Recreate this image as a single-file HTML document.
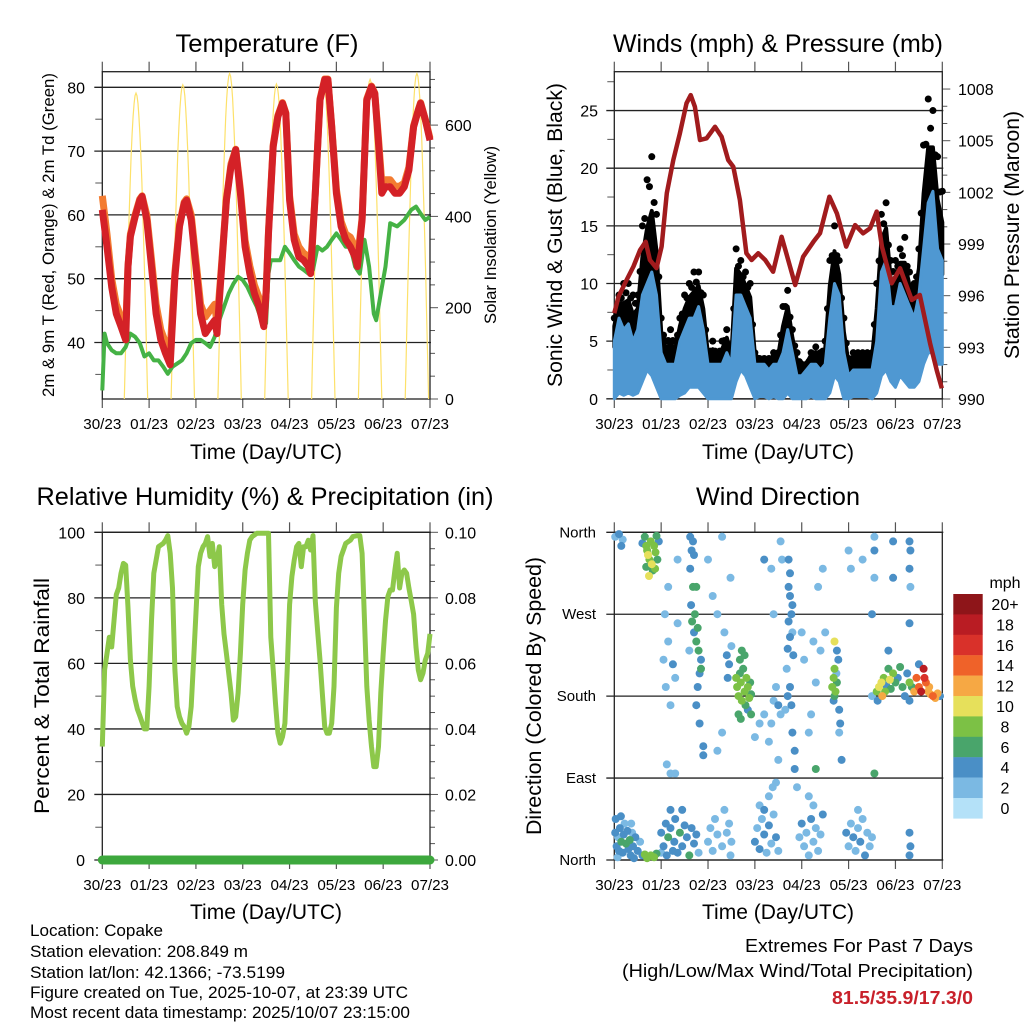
<!DOCTYPE html>
<html><head><meta charset="utf-8"><style>
html,body{margin:0;padding:0;background:#fff}
svg{display:block}
text{font-family:"Liberation Sans Narrow","Liberation Sans",sans-serif;fill:#000}
</style></head><body>
<svg id="c" width="1024" height="1024" viewBox="0 0 1024 1024" xmlns="http://www.w3.org/2000/svg">
<rect width="1024" height="1024" fill="#fff"/>
<text x="267" y="52" font-size="25" text-anchor="middle" textLength="183" lengthAdjust="spacingAndGlyphs">Temperature (F)</text>
<text x="778" y="52" font-size="25" text-anchor="middle" textLength="330" lengthAdjust="spacingAndGlyphs">Winds (mph) &amp; Pressure (mb)</text>
<text x="265" y="505" font-size="25" text-anchor="middle" textLength="457" lengthAdjust="spacingAndGlyphs">Relative Humidity (%) &amp; Precipitation (in)</text>
<text x="778" y="505" font-size="25" text-anchor="middle" textLength="164" lengthAdjust="spacingAndGlyphs">Wind Direction</text>
<text x="266" y="459" font-size="21" text-anchor="middle" textLength="152" lengthAdjust="spacingAndGlyphs">Time (Day/UTC)</text>
<text x="778" y="459" font-size="21" text-anchor="middle" textLength="152" lengthAdjust="spacingAndGlyphs">Time (Day/UTC)</text>
<text x="266" y="919" font-size="21" text-anchor="middle" textLength="152" lengthAdjust="spacingAndGlyphs">Time (Day/UTC)</text>
<text x="778" y="919" font-size="21" text-anchor="middle" textLength="152" lengthAdjust="spacingAndGlyphs">Time (Day/UTC)</text>
<text transform="translate(54,235) rotate(-90)" font-size="17" text-anchor="middle" textLength="324" lengthAdjust="spacingAndGlyphs">2m &amp; 9m T (Red, Orange) &amp; 2m Td (Green)</text>
<text transform="translate(496,235) rotate(-90)" font-size="17" text-anchor="middle" textLength="178" lengthAdjust="spacingAndGlyphs">Solar Insolation (Yellow)</text>
<text transform="translate(562,235) rotate(-90)" font-size="21" text-anchor="middle" textLength="304" lengthAdjust="spacingAndGlyphs">Sonic Wind &amp; Gust (Blue, Black)</text>
<text transform="translate(1019,235) rotate(-90)" font-size="21" text-anchor="middle" textLength="248" lengthAdjust="spacingAndGlyphs">Station Pressure (Maroon)</text>
<text transform="translate(49,696) rotate(-90)" font-size="21" text-anchor="middle" textLength="236" lengthAdjust="spacingAndGlyphs">Percent &amp; Total Rainfall</text>
<text transform="translate(541,696) rotate(-90)" font-size="21" text-anchor="middle" textLength="278" lengthAdjust="spacingAndGlyphs">Direction (Colored By Speed)</text>
<g font-size="17">
<text x="30" y="936" textLength="133" lengthAdjust="spacingAndGlyphs">Location: Copake</text>
<text x="30" y="957" textLength="218" lengthAdjust="spacingAndGlyphs">Station elevation: 208.849 m</text>
<text x="30" y="978" textLength="255" lengthAdjust="spacingAndGlyphs">Station lat/lon: 42.1366; -73.5199</text>
<text x="30" y="998" textLength="378" lengthAdjust="spacingAndGlyphs">Figure created on Tue, 2025-10-07, at 23:39 UTC</text>
<text x="30" y="1018" textLength="380" lengthAdjust="spacingAndGlyphs">Most recent data timestamp: 2025/10/07 23:15:00</text>
</g>
<text x="973" y="952" font-size="18" text-anchor="end" textLength="228" lengthAdjust="spacingAndGlyphs">Extremes For Past 7 Days</text>
<text x="973" y="977" font-size="18" text-anchor="end" textLength="351" lengthAdjust="spacingAndGlyphs">(High/Low/Max Wind/Total Precipitation)</text>
<text x="973" y="1004" font-size="18" font-weight="bold" text-anchor="end" textLength="141" lengthAdjust="spacingAndGlyphs" style="fill:#c8202a">81.5/35.9/17.3/0</text>
</svg>
<script>
// ---------- DATA ----------
const dayLabels=["30/23","01/23","02/23","03/23","04/23","05/23","06/23","07/23"];
const tDays=[0,0.1,0.2,0.3,0.4,0.5,0.55,0.6,0.7,0.8,0.85,0.95,1.05,1.15,1.25,1.35,1.45,1.55,1.65,1.75,1.8,1.9,2.0,2.1,2.2,2.3,2.4,2.45,2.55,2.65,2.75,2.85,2.95,3.05,3.15,3.25,3.35,3.45,3.5,3.55,3.65,3.75,3.85,3.92,4.0,4.1,4.2,4.3,4.4,4.45,4.55,4.65,4.75,4.82,4.9,5.0,5.1,5.2,5.3,5.4,5.45,5.55,5.65,5.75,5.82,5.9,5.97,6.05,6.15,6.25,6.35,6.45,6.55,6.65,6.75,6.8,6.9,7.0];
const tempRed=[60.8,55,48.7,44.5,42.5,40.4,51.9,56.6,59.7,62.3,62.9,59.2,51.9,44.5,40.4,38.3,36.5,50.3,58.2,61.8,62.3,59.2,51.9,44.5,41.4,42.5,43.5,41.4,51.9,62.3,67.6,70.2,63.4,55,50.8,47.7,45.6,42.5,47.7,57.1,70.7,75.4,77.5,75.9,62.3,56.1,53.4,52.9,51.9,50.8,63.4,78,81.2,81.2,73.8,63.4,58.2,56.1,55,53.4,51.9,59.2,78,80.1,79,71.2,63.4,64.4,64.4,63.4,63.4,64.4,67,73.8,76.4,77.5,74.9,71.7];
const tempOrange=[63,57,50,46,44,42,52,57,60,62.5,63,60,53,46,42,40,39,51,58.5,62,62.5,60,53,46,44,45,46,43,52.5,62.5,68,70.3,64,56,52,49,47,44,48,57.5,71,75.6,77.6,76,63,57,55,54,53.5,52,63.5,78.2,81.3,81.3,74,64,59,57,56.5,55,53,59.5,78.2,80.2,79.1,72,65,65.5,65.5,64.5,64.5,65,67.5,74,76.5,77.6,75,72];
const tdDays=[0,0.05,0.1,0.2,0.3,0.4,0.5,0.6,0.7,0.8,0.9,1.0,1.1,1.2,1.3,1.4,1.5,1.6,1.7,1.8,1.9,2.0,2.1,2.2,2.3,2.4,2.5,2.6,2.7,2.8,2.9,3.0,3.1,3.2,3.3,3.4,3.5,3.55,3.6,3.7,3.8,3.9,4.0,4.1,4.2,4.3,4.4,4.5,4.6,4.7,4.8,4.9,5.0,5.1,5.2,5.3,5.4,5.5,5.6,5.7,5.8,5.85,5.95,6.05,6.15,6.3,6.45,6.6,6.7,6.8,6.9,7.0];
const dewpoint=[32.5,41.4,39.9,38.8,38.3,38.3,39.3,41.4,40.9,39.9,37.8,38.3,37.2,37.2,36.2,35.1,36.2,36.7,37.2,38.3,39.9,40.4,40.4,39.9,39.3,40.9,43.5,45.6,47.7,49.2,50.3,49.8,48.7,47.1,45.6,43.5,43.0,50.8,52.9,52.9,52.9,55,54,52.9,51.9,51.4,50.8,51.4,55,54.4,55,56.1,57.1,56.1,55,55,51.9,50.8,56.1,51.9,44.5,43.5,47.7,51.9,58.7,58.2,59.2,60.8,61.3,60.2,59.2,59.7];
const solarPeaks=[670,688,713,690,700,700,713];
const presDays=[0,0.09,0.26,0.41,0.55,0.67,0.76,0.9,1.01,1.12,1.26,1.4,1.54,1.63,1.72,1.83,1.97,2.15,2.29,2.43,2.54,2.68,2.82,2.93,3.07,3.22,3.39,3.57,3.67,3.86,4.03,4.25,4.39,4.59,4.75,4.95,5.14,5.31,5.46,5.6,5.71,5.92,6.1,6.35,6.52,6.74,6.88,6.99];
const pressure=[994.98,995.94,996.9,997.7,998.65,999.13,998.07,997.6,998.85,1001.95,1003.88,1005.43,1007.17,1007.65,1006.97,1005.04,1005.14,1005.81,1005.23,1003.88,1003.49,1001.55,998.46,998.07,998.46,998.07,997.39,999.42,998.46,996.62,998.26,999.13,999.62,1001.75,1000.78,998.85,1000.1,999.62,999.91,1000.88,998.85,996.72,997.59,995.75,996.04,993.23,991.68,990.62];
const windDays=[0,0.1,0.2,0.3,0.4,0.5,0.6,0.7,0.8,0.9,1.0,1.1,1.2,1.3,1.4,1.5,1.6,1.7,1.8,1.9,2.0,2.1,2.2,2.3,2.4,2.5,2.6,2.7,2.8,2.9,3.0,3.1,3.2,3.3,3.4,3.5,3.6,3.7,3.8,3.9,4.0,4.1,4.2,4.3,4.4,4.5,4.6,4.7,4.8,4.9,5.0,5.1,5.2,5.3,5.4,5.5,5.6,5.7,5.8,5.9,6.0,6.1,6.2,6.3,6.4,6.5,6.6,6.7,6.8,6.9,7.0];
const windHi=[5,7,6,6.5,5,6,9,10,11,9,4,3,3,3,5,6,7,7,8,6,3,3,3,3,4,3,9,9,8,7,3,3,3,2.5,3,3,4,6,4,2,2,2.5,3,3,2.5,3,7,10,9,4,2,2.5,2.5,2.5,2.5,2.5,5,11,12,8,8,10,9,8,7,9,13,17,18,13,12];
const windLo=[0,0.5,0.3,0.5,0.3,0.5,1.5,2.5,2,1,0,0,0,0,0.3,0.5,1,1,1,0.5,0,0,0,0,0,0,1.5,2.5,2,1,0,0.2,0.2,0,0.2,0,0,0.5,0,0,0,0,0.2,0,0,0,0.5,2,1.5,0,0,0.2,0.2,0.2,0.2,0,0.5,2,2.5,1.5,1,2,1.5,1,1,1.5,3,4,4,3,3];
const gust=[7,9,10,10,9,9,15,19,21,16,7,5,6,5,7,9,10,11,11,9,4,5,4,5,6,4,13,12,11,10,4,3.5,3.5,3.5,4,4,8,9.4,6,4,3,3,4,4.5,4,5,12,15,12,7,3.5,4,4,4,4,4,10,16,17,12,12,13,14,11,10,13,22,26,25,21,18];
const rhDays=[0,0.05,0.1,0.15,0.2,0.25,0.3,0.35,0.4,0.45,0.5,0.55,0.6,0.65,0.7,0.75,0.8,0.85,0.9,0.95,1.0,1.05,1.1,1.15,1.2,1.3,1.35,1.4,1.45,1.5,1.55,1.6,1.65,1.7,1.75,1.8,1.85,1.9,1.95,2.0,2.05,2.1,2.15,2.2,2.25,2.3,2.35,2.4,2.45,2.5,2.55,2.6,2.65,2.7,2.75,2.8,2.85,2.9,2.95,3.0,3.05,3.1,3.15,3.2,3.3,3.4,3.45,3.5,3.55,3.6,3.65,3.7,3.75,3.8,3.85,3.9,3.95,4.0,4.05,4.1,4.15,4.2,4.25,4.3,4.35,4.4,4.45,4.5,4.55,4.6,4.65,4.7,4.75,4.8,4.85,4.9,4.95,5.0,5.05,5.1,5.15,5.2,5.3,5.35,5.45,5.5,5.55,5.6,5.65,5.7,5.75,5.8,5.85,5.9,5.95,6.0,6.05,6.1,6.15,6.2,6.25,6.3,6.35,6.4,6.45,6.5,6.55,6.6,6.65,6.7,6.75,6.8,6.85,6.9,6.95,7.0];
const humidity=[34.6,58,63,68,65,73,81,83,87.5,90.5,90,77,61,53,49,46,44,42,40,40,53,73,87.5,91.5,95.6,96.6,97.6,99,93.6,83,58,46.8,43.7,41.7,40.7,38.7,40.7,46.8,61,75,89.5,93.6,95.6,96.6,98.7,92.6,96.6,89.5,91.5,95.6,78,69,63,57,51,42.7,43.7,51,63,78,88.5,93.6,97.6,98.7,99.7,99.7,99.7,99.7,99.7,68,58,47.8,38.7,35.6,37.6,41.7,58,78,86.5,91.5,95.6,96.6,89.5,95.6,95.6,97.6,94.6,99,79,70,61,51,40.7,38.7,38.7,41.7,53,77,87.5,92.6,94.6,96.6,97.6,98.7,99,99,93.6,73,53,42.7,34.6,28.5,28.5,34.6,51,63,73,80.4,82.4,82.4,88.5,93.6,83,87.5,88.5,87.5,83,79,75,65,58,55,57,61,63,69];
const precipDays=[0,7];
const precip=[0,0];
const dirDay=[0.02,0.05,0.08,0.1,0.12,0.15,0.18,0.2,0.22,0.25,0.28,0.3,0.33,0.35,0.38,0.4,0.45,0.5,0.55,0.6,0.03,0.07,0.14,0.36,0.42,0.65,0.7,0.78,0.85,0.9,0.65,0.68,0.7,0.72,0.75,0.78,0.8,0.82,0.85,0.88,0.9,0.92,0.74,0.68,0.95,0.6,0.87,0.02,0.1,0.15,0.18,1.0,1.05,1.1,1.12,1.15,1.2,1.25,1.28,1.3,1.35,1.4,1.45,1.5,1.55,1.6,1.65,1.7,1.75,1.8,1.2,1.45,1.0,1.62,1.65,1.62,1.68,1.64,1.66,1.7,1.75,1.8,1.85,1.82,1.78,1.75,1.82,1.9,1.9,1.75,1.72,1.78,1.85,1.68,1.7,1.6,1.05,1.1,1.15,1.2,1.25,1.3,1.12,1.2,1.35,1.15,1.08,1.35,1.3,2.0,2.05,2.1,2.15,2.2,2.3,2.35,2.4,2.45,2.5,2.48,2.0,2.1,2.2,2.3,2.35,2.4,2.45,2.42,2.5,2.48,2.3,2.2,2.6,2.62,2.65,2.68,2.7,2.72,2.75,2.78,2.8,2.82,2.85,2.88,2.9,2.92,2.68,2.72,2.65,2.7,2.85,2.92,2.78,3.0,3.05,3.1,3.15,3.2,3.25,3.3,3.35,3.4,3.45,3.5,3.1,3.3,3.2,3.38,3.0,3.1,3.2,3.3,3.35,3.4,3.45,3.5,3.55,3.5,3.45,3.35,3.4,3.55,3.58,3.2,3.72,3.75,3.72,3.75,3.8,3.78,3.72,3.8,3.75,3.7,3.82,3.75,3.7,3.78,3.8,3.85,3.85,3.9,3.68,3.65,3.95,4.0,4.05,4.1,4.15,4.2,4.25,4.3,4.35,4.4,4.45,4.25,4.15,4.0,4.05,4.15,4.2,4.25,4.3,4.35,4.4,4.45,4.5,4.3,4.65,4.68,4.7,4.72,4.75,4.78,4.7,4.75,4.68,4.8,4.82,4.8,4.85,4.7,4.74,4.95,5.0,5.05,5.1,5.15,5.2,5.25,5.3,5.35,5.4,5.45,5.5,5.2,5.0,5.05,5.3,5.55,5.5,5.55,5.55,5.5,5.55,5.6,5.65,5.7,5.72,5.75,5.78,5.8,5.85,5.88,5.9,5.95,6.0,6.05,6.1,6.15,6.2,6.25,6.3,6.35,6.4,6.45,6.5,6.55,6.6,6.62,6.65,6.7,6.72,6.75,6.8,6.85,6.9,6.95,5.62,5.85,6.3,6.5,6.3,6.32,6.3,6.32,6.3,6.3,6.32,6.3,5.95,5.95,5.95];
const dirDeg=[30,15,25,10,35,20,8,28,40,18,32,12,22,5,30,15,25,10,20,5,45,3,48,40,2,6,2,5,3,7,355,345,340,335,330,350,325,318,345,338,356,330,312,322,350,348,320,355,358,345,352,30,15,40,5,25,35,10,20,45,8,30,15,38,25,5,35,18,28,8,55,55,8,355,340,320,300,280,262,250,240,230,220,205,190,170,150,125,115,300,270,255,210,350,335,230,220,190,240,170,215,200,105,95,260,300,270,330,95,20,35,10,45,28,15,55,30,40,20,5,330,290,270,355,250,225,215,200,235,310,140,120,200,190,180,205,195,175,210,185,170,200,190,178,195,182,220,230,160,155,165,160,225,20,35,12,45,28,8,38,18,50,25,10,60,70,55,80,135,150,160,130,150,175,190,170,160,110,85,320,270,350,330,330,330,315,300,290,280,270,262,250,245,232,225,190,180,170,140,120,100,80,210,165,25,40,15,30,5,45,20,35,10,28,50,60,70,250,220,140,160,240,195,300,230,320,250,100,190,200,210,185,195,220,180,230,175,165,150,140,110,240,205,30,15,40,25,10,35,20,45,5,30,15,25,55,340,320,330,355,270,340,310,180,95,185,190,195,180,200,185,192,210,198,188,205,195,200,212,190,180,205,195,190,185,200,190,185,210,200,195,185,190,182,180,178,183,180,175,230,175,215,350,340,320,300,260,30,15,5,350,310,265];
const dirSpd=[3,4,2,4,3,5,3,4,2,5,4,3,6,4,2,3,3,4,2,3,4,2,3,2,3,7,8,7,8,6,6,7,8,9,8,7,9,6,8,7,6,5,9,6,4,4,8,2,3,3,2,3,4,3,4,5,4,3,4,3,4,5,4,3,4,6,4,4,3,2,3,4,2,4,4,4,5,4,5,4,6,5,4,4,4,4,4,4,4,6,6,6,6,4,4,2,2,2,1,2,3,2,2,2,2,1,2,1,2,2,1,2,1,2,2,1,2,1,2,2,2,1,2,1,2,3,3,3,2,2,1,2,7,8,7,6,8,7,6,8,6,7,8,7,6,5,6,6,6,5,4,5,6,3,2,3,2,3,2,3,2,1,3,2,2,1,3,1,1,1,1,2,2,2,2,3,2,2,1,2,2,2,1,4,4,4,4,4,4,4,4,2,4,4,4,4,4,4,4,4,4,2,2,2,2,3,2,2,2,3,2,2,2,2,3,1,2,1,1,1,2,2,1,2,1,2,2,6,7,8,8,7,6,4,6,4,4,4,4,2,4,9,2,3,2,2,3,2,2,3,2,3,2,2,2,1,2,2,1,2,3,3,2,2,6,8,10,9,11,7,8,4,6,10,6,7,6,4,6,6,4,4,7,6,12,13,14,17,18,16,13,12,11,12,13,11,12,4,4,3,4,3,3,3,3,2,3,3,3,3,3,3];
const speedLabels=["20+","18","16","14","12","10","8","6","4","2","0"];
const speedColors=["#8e1519","#b91c23","#d9312a","#ef6229","#f6a844","#e6e05b","#7cc145","#49a56b","#4a8fc6","#7bb9e3","#b4e1f8"];
// ---------- HELPERS ----------
const NS="http://www.w3.org/2000/svg";
const svg=document.getElementById('c');
function el(tag,attrs,parent){const e=document.createElementNS(NS,tag);for(const k in attrs)e.setAttribute(k,attrs[k]);(parent||svg).appendChild(e);return e;}
function grp(name){const g=el('g',{});return g;}
function txt(x,y,s,size,anchor,parent){const t=el('text',{x:x,y:y,'font-size':size,'text-anchor':anchor},parent);t.textContent=s;return t;}
const L1=102.3,R1=430,L2=614.3,R2=942.3,T1=71.7,B1=399,T3=532.3,B3=860;
const xA=d=>L1+d*(R1-L1)/7, xB=d=>L2+d*(R2-L2)/7;
const yT=v=>87.3+(80-v)*6.38, ySol=s=>399-s*0.4565;
const yW=v=>398.8-v*11.53, yP=p=>399-(p-990)*17.22;
const yRH=v=>860-v*3.277, yPr=v=>860-v*3277, yDir=a=>860-a*0.9103;
function poly(xs,ys,fx,fy){return xs.map((d,i)=>fx(d).toFixed(1)+','+fy(ys[i]).toFixed(1)).join(' ');}
function frame(L,R,T,B,name,leftTicks,rightTicks,grid){
  const g=grp(name);
  grid.forEach(y=>{const l=el('line',{x1:L-8,x2:R+1,y1:y,y2:y,stroke:'#222','stroke-width':1.3},g);});
  leftTicks.forEach(y=>el('line',{x1:L-7,x2:L,y1:y,y2:y,stroke:'#555','stroke-width':1},g));
  rightTicks.forEach(t=>el('line',{x1:R,x2:R+(t[1]?8:5),y1:t[0],y2:t[0],stroke:'#555','stroke-width':1},g));
  for(let d=0;d<=7;d++){const x=L+d*(R-L)/7;el('line',{x1:x,x2:x,y1:T-10,y2:T,stroke:'#555','stroke-width':1.2},g);el('line',{x1:x,x2:x,y1:B,y2:B+9,stroke:'#555','stroke-width':1.2},g);
    const t=txt(x,B+30,dayLabels[d],15,'middle',g);t.setAttribute('textLength','38');t.setAttribute('lengthAdjust','spacingAndGlyphs');}
  el('rect',{x:L,y:T,width:R-L,height:B-T,fill:'none',stroke:'#222','stroke-width':1.3},g);
  return g;
}
// panel 1
(function(){
  const lt=[],rt=[],gr=[];for(let v=35;v<=80;v+=5){if(v%10)lt.push(yT(v));else gr.push(yT(v));}
  for(let s=0;s<=700;s+=50)rt.push([ySol(s),s%200===0]);
  const g=frame(L1,R1,T1,B1,'temperature-axes',lt,rt,gr);
  [40,50,60,70,80].forEach(v=>{const t=txt(85,yT(v)+6,String(v),16,'end',g);});
  [0,200,400,600].forEach(s=>{const t=txt(445,ySol(s)+6,String(s),16,'start',g);});
  const d=grp('temperature-series');
  solarPeaks.forEach((p,i)=>{let pts=[];for(let k=0;k<=24;k++){const f=0.47+k*(0.5/24);const s=p*Math.sin(Math.PI*k/24);pts.push(xA(i+f).toFixed(1)+','+ySol(s).toFixed(1));}
    const pl=el('polyline',{points:pts.join(' '),fill:'none',stroke:'#fde16a','stroke-width':1.2},d);});
  let o=el('polyline',{points:poly(tDays,tempOrange,xA,yT),fill:'none',stroke:'#f37c31','stroke-width':7,'stroke-linejoin':'round'},d);
  
  let gr2=el('polyline',{points:poly(tdDays,dewpoint,xA,yT),fill:'none',stroke:'#45b245','stroke-width':4,'stroke-linejoin':'round'},d);
  
  let r=el('polyline',{points:poly(tDays,tempRed,xA,yT),fill:'none',stroke:'#d42127','stroke-width':7,'stroke-linejoin':'round'},d);
  
})();
// panel 2
(function(){
  const lt=[],rt=[],gr=[];for(let v=2.5;v<=27.5;v+=5)lt.push(yW(v));for(let v=0;v<=25;v+=5)gr.push(yW(v));
  for(let p=990;p<=1008;p++)rt.push([yP(p),p%3===0]);
  const g=frame(L2,R2,T1,B1,'winds-axes',lt,rt,gr);
  [0,5,10,15,20,25].forEach(v=>{const t=txt(598,yW(v)+6,String(v),16,'end',g);});
  [990,993,996,999,1002,1005,1008].forEach(p=>{const t=txt(958,yP(p)+6,String(p),16,'start',g);});
  const d=grp('wind-series');
  const top=windDays.map((x,i)=>xB(x).toFixed(1)+','+yW((windHi[i]+gust[i])/2+0.3).toFixed(1));
  const mid=windDays.map((x,i)=>xB(x).toFixed(1)+','+yW(windHi[i]*0.9).toFixed(1)).reverse();
  let b=el('polygon',{points:top.concat(mid).join(' '),fill:'#000',stroke:'#000','stroke-width':4,'stroke-linejoin':'round'},d);
  
  windDays.forEach((x,i)=>{const c=el('circle',{cx:xB(x),cy:yW(gust[i]),r:3.5,fill:'#000'},d);
    if(i<windDays.length-1){const c2=el('circle',{cx:xB(x+0.05),cy:yW((gust[i]+gust[i+1])/2*0.92),r:3.5,fill:'#000'},d);}});
  const t2=windDays.map((x,i)=>xB(x).toFixed(1)+','+yW(windHi[i]).toFixed(1));
  const bot=windDays.map((x,i)=>xB(x).toFixed(1)+','+yW(windLo[i]).toFixed(1)).reverse();
  let bl=el('polygon',{points:t2.concat(bot).join(' '),fill:'#4f98d2',stroke:'#4f98d2','stroke-width':3,'stroke-linejoin':'round'},d);
  
  let p=el('polyline',{points:poly(presDays,pressure,xB,yP),fill:'none',stroke:'#a11b1d','stroke-width':4.5,'stroke-linejoin':'round'},d);
  
})();
// panel 3
(function(){
  const lt=[],rt=[],gr=[];for(let v=10;v<=90;v+=20)lt.push(yRH(v));for(let v=0;v<=100;v+=20)gr.push(yRH(v));
  for(let v=0;v<=0.1001;v+=0.005)rt.push([yPr(v),Math.round(v*1000)%20===0]);
  const g=frame(L1,R1,T3,B3,'humidity-axes',lt,rt,gr);
  [0,20,40,60,80,100].forEach(v=>{const t=txt(85,yRH(v)+6,String(v),16,'end',g);});
  ['0.00','0.02','0.04','0.06','0.08','0.10'].forEach(s=>{const t=txt(445,yPr(+s)+6,s,16,'start',g);});
  const d=grp('humidity-series');
  let h=el('polyline',{points:poly(rhDays,humidity,xA,yRH),fill:'none',stroke:'#8dc84a','stroke-width':5,'stroke-linejoin':'round'},d);
  
  let pr=el('polyline',{points:poly(precipDays,precip,xA,yPr),fill:'none',stroke:'#3da83d','stroke-width':9,'stroke-linecap':'round'},d);
  
})();
// panel 4
(function(){
  const gr=[0,90,180,270,360].map(yDir);
  const g=frame(L2,R2,T3,B3,'direction-axes',[],[],gr);
  ['North','East','South','West','North'].forEach((s,i)=>{const t=txt(596,yDir(i*90)+5,s,15,'end',g);});
  const d=grp('direction-points');
  const order=dirSpd.map((s,i)=>i).sort((a,b)=>dirSpd[a]-dirSpd[b]);
  order.forEach(i=>{const idx=Math.min(10,Math.round(dirSpd[i]/2));
    const c=el('circle',{cx:xB(dirDay[i]).toFixed(1),cy:yDir(dirDeg[i]).toFixed(1),r:4,fill:speedColors[10-idx]},d);
    });
  const lg=grp('speed-colorbar');
  txt(1005,588,'mph',16,'middle',lg);
  speedColors.forEach((c,i)=>{const r=el('rect',{x:953.3,y:594+i*20.4,width:29.4,height:20.6,fill:c},lg);
    const t=txt(1005,594+i*20.4+16,speedLabels[i],16,'middle',lg);});
})();
</script>
</body></html>
